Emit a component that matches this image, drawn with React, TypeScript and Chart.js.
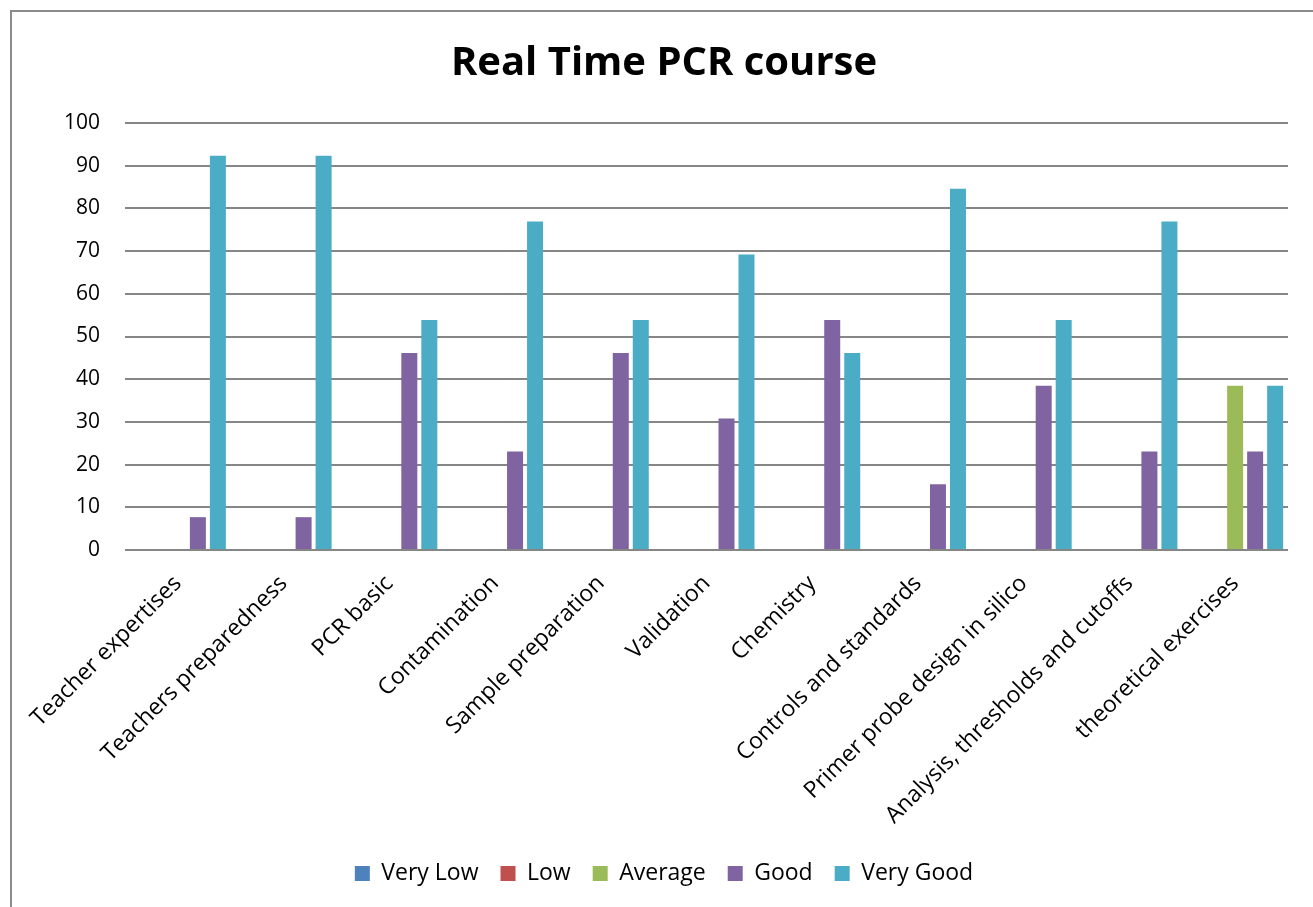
import React, { useEffect, useRef } from "react";
import { Chart, registerables } from "chart.js";

Chart.register(...registerables);

const categories = [
  "Teacher expertises",
  "Teachers preparedness",
  "PCR basic",
  "Contamination",
  "Sample preparation",
  "Validation",
  "Chemistry",
  "Controls and standards",
  "Primer probe design in silico",
  "Analysis, thresholds and cutoffs",
  "theoretical exercises",
];

const veryLow = [0, 0, 0, 0, 0, 0, 0, 0, 0, 0, 0];
const low = [0, 0, 0, 0, 0, 0, 0, 0, 0, 0, 0];
const average = [0, 0, 0, 0, 0, 0, 0, 0, 0, 0, 38.46];
const good = [7.69, 7.69, 46.15, 23.08, 46.15, 30.77, 53.85, 15.38, 38.46, 23.08, 23.08];
const veryGood = [92.31, 92.31, 53.85, 76.92, 53.85, 69.23, 46.15, 84.62, 53.85, 76.92, 38.46];

const yTicks = [0, 10, 20, 30, 40, 50, 60, 70, 80, 90, 100];

const FONT = "'Open Sans'";

const framePlugin = {
  id: "frame",
  beforeDraw(chart: any) {
    const ctx = chart.ctx;
    ctx.save();
    ctx.fillStyle = "#ffffff";
    ctx.fillRect(0, 0, chart.width, chart.height);
    ctx.strokeStyle = "#8c8c8c";
    ctx.lineWidth = 2;
    ctx.beginPath();
    ctx.moveTo(11, chart.height);
    ctx.lineTo(11, 11);
    ctx.lineTo(chart.width, 11);
    ctx.stroke();
    ctx.restore();
  },
};

export default function App() {
  const ref = useRef<HTMLCanvasElement>(null);

  useEffect(() => {
    if (!ref.current) return;
    const chart = new Chart(ref.current, {
      type: "bar",
      data: {
        labels: categories,
        datasets: [
          { label: "Very Low", data: veryLow, backgroundColor: "#4F81BD" },
          { label: "Low", data: low, backgroundColor: "#C0504D" },
          { label: "Average", data: average, backgroundColor: "#9BBB59" },
          { label: "Good", data: good, backgroundColor: "#8064A2" },
          { label: "Very Good", data: veryGood, backgroundColor: "#4BACC6" },
        ],
      },
      options: {
        responsive: false,
        animation: false,
        layout: { padding: { left: 20, right: 5, top: 0, bottom: 12 } },
        datasets: {
          bar: { categoryPercentage: 0.946, barPercentage: 0.8, borderWidth: 0 },
        },
        plugins: {
          title: {
            display: true,
            text: "Real Time PCR course",
            color: "#000000",
            font: { family: FONT, size: 40, weight: "bold" },
            padding: { top: 40, bottom: 35 },
          },
          legend: {
            position: "bottom",
            labels: {
              color: "#000000",
              font: { family: FONT, size: 23 },
              boxWidth: 15,
              boxHeight: 15,
              padding: 22,
            },
          },
          tooltip: { enabled: false },
        },
        scales: {
          x: {
            grid: { display: false, drawTicks: false },
            border: { display: false },
            ticks: {
              color: "#000000",
              font: { family: FONT, size: 23 },
              maxRotation: 45,
              minRotation: 45,
              autoSkip: false,
              padding: 20,
            },
            afterFit(scale: any) {
              scale.height = 290;
            },
          },
          y: {
            min: 0,
            max: 100,
            afterBuildTicks(scale: any) {
              scale.ticks = yTicks.map((v) => ({ value: v }));
            },
            grid: { color: "#868686", lineWidth: 2, drawTicks: false },
            border: { display: false },
            ticks: {
              color: "#000000",
              font: { family: FONT, size: 21 },
              padding: 25,
            },
            afterFit(scale: any) {
              scale.width = 105;
            },
          },
          yRight: {
            position: "right",
            min: 0,
            max: 100,
            grid: { display: false, drawTicks: false },
            border: { display: false },
            ticks: { display: false },
            afterFit(scale: any) {
              scale.width = 20;
            },
          },
        },
      },
      plugins: [framePlugin],
    });
    return () => chart.destroy();
  }, []);

  return (
    <div style={{ position: "fixed", left: 0, top: 0, width: 1313, height: 907 }}>
      <canvas ref={ref} width={1313} height={907} style={{ display: "block" }} />
    </div>
  );
}
